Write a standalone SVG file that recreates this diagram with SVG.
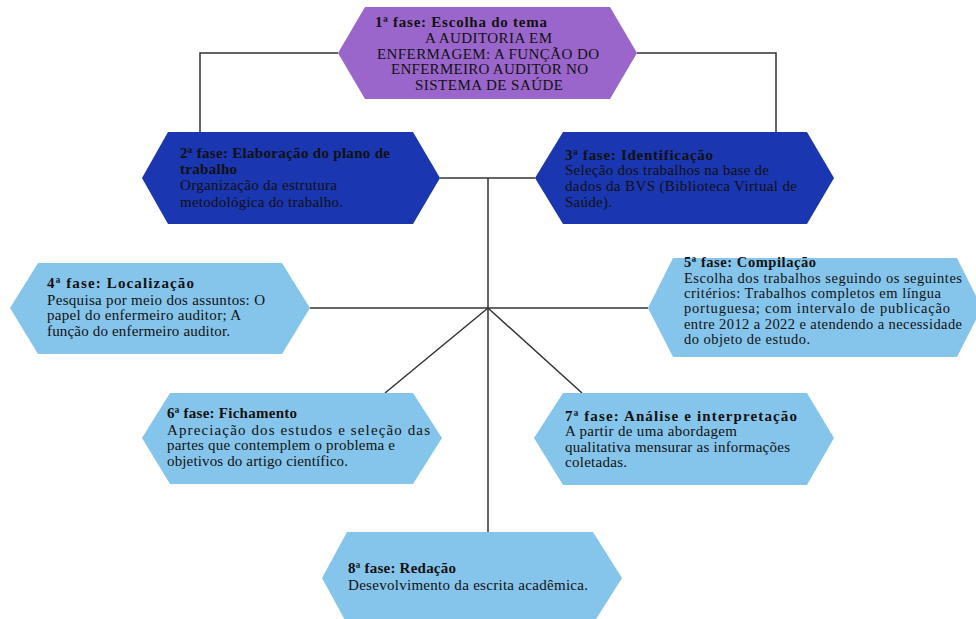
<svg xmlns="http://www.w3.org/2000/svg" width="976" height="619" viewBox="0 0 976 619">
<style>
.t{font-family:"Liberation Serif","Times New Roman",serif;font-size:15px;fill:#111}
.s{font-size:14.5px}
.b{font-weight:bold}
.purple{fill:#9B66CB}
.dark{fill:#1A36B0}
.light{fill:#86C5EB}
.conn{stroke:#333;stroke-width:1.5;fill:none}
</style>
<rect width="976" height="619" fill="#fff"/>
<g id="connectors">
<polyline class="conn" points="200,133 200,53 338,53"/>
<polyline class="conn" points="637,53 776,53 776,133"/>
<line class="conn" x1="440" y1="178" x2="535" y2="178"/>
<line class="conn" x1="488" y1="178" x2="488" y2="532"/>
<line class="conn" x1="310" y1="308" x2="648" y2="308"/>
<line class="conn" x1="488" y1="308" x2="385" y2="393"/>
<line class="conn" x1="488" y1="308" x2="582" y2="393"/>
</g>
<g id="node1">
<polygon class="purple" points="338,53 365,7 610,7 637,53 610,99 365,99"/>
<text class="t b" x="375" y="27" textLength="172" lengthAdjust="spacing">1ª fase: Escolha do tema</text>
<text class="t" x="425" y="43" textLength="127" lengthAdjust="spacing">A AUDITORIA EM</text>
<text class="t" x="377" y="59" textLength="222" lengthAdjust="spacing">ENFERMAGEM: A FUNÇÃO DO</text>
<text class="t" x="391" y="74" textLength="197" lengthAdjust="spacing">ENFERMEIRO AUDITOR NO</text>
<text class="t" x="415" y="90" textLength="148" lengthAdjust="spacing">SISTEMA DE SAÚDE</text>
</g>
<g id="node2">
<polygon class="dark" points="142,178 168,132 413,132 440,178 413,224 168,224"/>
<text class="t b" x="180" y="158" textLength="210" lengthAdjust="spacing">2ª fase: Elaboração do plano de</text>
<text class="t b" x="180" y="174" textLength="57" lengthAdjust="spacing">trabalho</text>
<text class="t" x="180" y="190" textLength="157" lengthAdjust="spacing">Organização da estrutura</text>
<text class="t" x="180" y="207" textLength="163" lengthAdjust="spacing">metodológica do trabalho.</text>
</g>
<g id="node3">
<polygon class="dark" points="535,178 563,132 807,132 834,178 807,224 563,224"/>
<text class="t b" x="565" y="160" textLength="148" lengthAdjust="spacing">3ª fase: Identificação</text>
<text class="t" x="565" y="175" textLength="204" lengthAdjust="spacing">Seleção dos trabalhos na base de</text>
<text class="t" x="565" y="191" textLength="232" lengthAdjust="spacing">dados da BVS (Biblioteca Virtual de</text>
<text class="t" x="565" y="207" textLength="47" lengthAdjust="spacing">Saúde).</text>
</g>
<g id="node4">
<polygon class="light" points="10,308 38,263 282,263 310,308 282,354 38,354"/>
<text class="t b" x="47" y="288" textLength="147" lengthAdjust="spacing">4ª fase: Localização</text>
<text class="t" x="47" y="305" textLength="218" lengthAdjust="spacing">Pesquisa por meio dos assuntos: O</text>
<text class="t" x="47" y="320" textLength="194" lengthAdjust="spacing">papel do enfermeiro auditor; A</text>
<text class="t" x="47" y="336" textLength="183" lengthAdjust="spacing">função do enfermeiro auditor.</text>
</g>
<g id="node5">
<polygon class="light" points="648,308 673,258 957,258 982,308 957,357 673,357"/>
<text class="t s b" x="684" y="267" textLength="132" lengthAdjust="spacing">5ª fase: Compilação</text>
<text class="t s" x="684" y="283" textLength="278" lengthAdjust="spacing">Escolha dos trabalhos seguindo os seguintes</text>
<text class="t s" x="684" y="298" textLength="257" lengthAdjust="spacing">critérios: Trabalhos completos em língua</text>
<text class="t s" x="684" y="313" textLength="266" lengthAdjust="spacing">portuguesa; com intervalo de publicação</text>
<text class="t s" x="684" y="329" textLength="278" lengthAdjust="spacing">entre 2012 a 2022 e atendendo a necessidade</text>
<text class="t s" x="684" y="344" textLength="126" lengthAdjust="spacing">do objeto de estudo.</text>
</g>
<g id="node6">
<polygon class="light" points="142,438 170,393 413,393 442,438 413,484 170,484"/>
<text class="t b" x="167" y="418" textLength="130" lengthAdjust="spacing">6ª fase: Fichamento</text>
<text class="t" x="167" y="435" textLength="263" lengthAdjust="spacing">Apreciação dos estudos e seleção das</text>
<text class="t" x="167" y="450" textLength="228" lengthAdjust="spacing">partes que contemplem o problema e</text>
<text class="t" x="167" y="466" textLength="181" lengthAdjust="spacing">objetivos do artigo científico.</text>
</g>
<g id="node7">
<polygon class="light" points="534,438 563,393 807,393 834,438 807,485 563,485"/>
<text class="t b" x="565" y="421" textLength="232" lengthAdjust="spacing">7ª fase: Análise e interpretação</text>
<text class="t" x="565" y="436" textLength="172" lengthAdjust="spacing">A partir de uma abordagem</text>
<text class="t" x="565" y="452" textLength="225" lengthAdjust="spacing">qualitativa mensurar as informações</text>
<text class="t" x="565" y="467" textLength="62" lengthAdjust="spacing">coletadas.</text>
</g>
<g id="node8">
<polygon class="light" points="322,578 347,532 593,532 622,578 593,624 347,624"/>
<text class="t b" x="348" y="573" textLength="108" lengthAdjust="spacing">8ª fase: Redação</text>
<text class="t" x="348" y="590" textLength="240" lengthAdjust="spacing">Desevolvimento da escrita acadêmica.</text>
</g>
</svg>
